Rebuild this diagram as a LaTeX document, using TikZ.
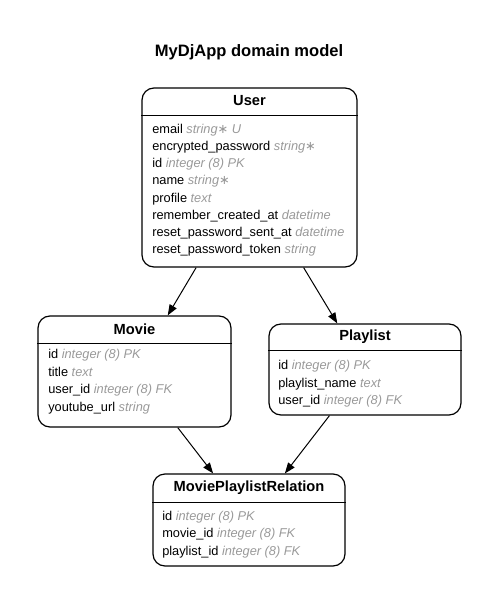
\documentclass[tikz,border=0pt]{standalone}
\usepackage{fontspec}
\setmainfont{Liberation Sans}
\newfontfamily\symfont{DejaVu Sans}
\usetikzlibrary{arrows.meta}

\definecolor{typegray}{RGB}{153,153,153}

\tikzset{
  entity/.style={draw,line width=0.9pt,rounded corners=9pt,inner sep=0pt},
  head/.style={font=\fontsize{11}{13}\selectfont\bfseries},
  sep/.style={line width=0.7pt},
  field/.style={anchor=base west,inner sep=0pt,font=\fontsize{9.6}{11}\selectfont},
  rel/.style={-{Triangle[length=8pt,width=6pt]},line width=0.75pt}
}

\newcommand{\ftype}[1]{\textcolor{typegray}{\textit{#1}}}
\newcommand{\req}{{\symfont\upshape ∗}}

\begin{document}
\begin{tikzpicture}[x=0.75pt,y=-0.75pt]
    \useasboundingbox (0,0) rectangle (499,606);

    % 标题
    \node[font=\fontsize{12.4}{14}\selectfont\bfseries] (title) at (249,52) {MyDjApp domain model};

    % User
    \node[entity,minimum width=161.25pt,minimum height=134.25pt] (user) at (249.5,177.5) {};
    \node[head] (user-head) at (249.5,101) {User};
    \draw[sep] (user.west |- 0,115) -- (user.east |- 0,115);
    \foreach \n/\t [count=\i] in {email/{string\req\ U},encrypted\_password/{string\req},
        id/{integer (8) PK},name/{string\req},profile/text,remember\_created\_at/datetime,
        reset\_password\_sent\_at/datetime,reset\_password\_token/string}
        \node[field] (user-\i) at (152,133+17.25*\i-17.25) {\n\ \ftype{\t}};

    % Movie
    \node[entity,minimum width=144.75pt,minimum height=83.25pt] (movie) at (134.5,371.5) {};
    \node[head] (movie-head) at (134.5,329) {Movie};
    \draw[sep] (movie.west |- 0,343) -- (movie.east |- 0,343);
    \foreach \n/\t [count=\i] in {id/{integer (8) PK},title/text,user\_id/{integer (8) FK},youtube\_url/string}
        \node[field] (movie-\i) at (48,358.5+17.5*\i-17.5) {\n\ \ftype{\t}};

    % Playlist
    \node[entity,minimum width=144pt,minimum height=68.25pt] (playlist) at (365,369.5) {};
    \node[head] (playlist-head) at (365,337) {Playlist};
    \draw[sep] (playlist.west |- 0,350) -- (playlist.east |- 0,350);
    \foreach \n/\t [count=\i] in {id/{integer (8) PK},playlist\_name/text,user\_id/{integer (8) FK}}
        \node[field] (playlist-\i) at (278,369.5+17.5*\i-17.5) {\n\ \ftype{\t}};

    % MoviePlaylistRelation
    \node[entity,minimum width=144pt,minimum height=69pt] (relation) at (249,520) {};
    \node[head] (relation-head) at (249,488) {MoviePlaylistRelation};
    \draw[sep] (relation.west |- 0,502) -- (relation.east |- 0,502);
    \foreach \n/\t [count=\i] in {id/{integer (8) PK},movie\_id/{integer (8) FK},playlist\_id/{integer (8) FK}}
        \node[field] (relation-\i) at (162,520.5+17.25*\i-17.25) {\n\ \ftype{\t}};

    % 关联
    \draw[rel] (user) -- (movie);
    \draw[rel] (user) -- (playlist);
    \draw[rel] (movie) -- (relation);
    \draw[rel] (playlist) -- (relation);
\end{tikzpicture}
\end{document}
